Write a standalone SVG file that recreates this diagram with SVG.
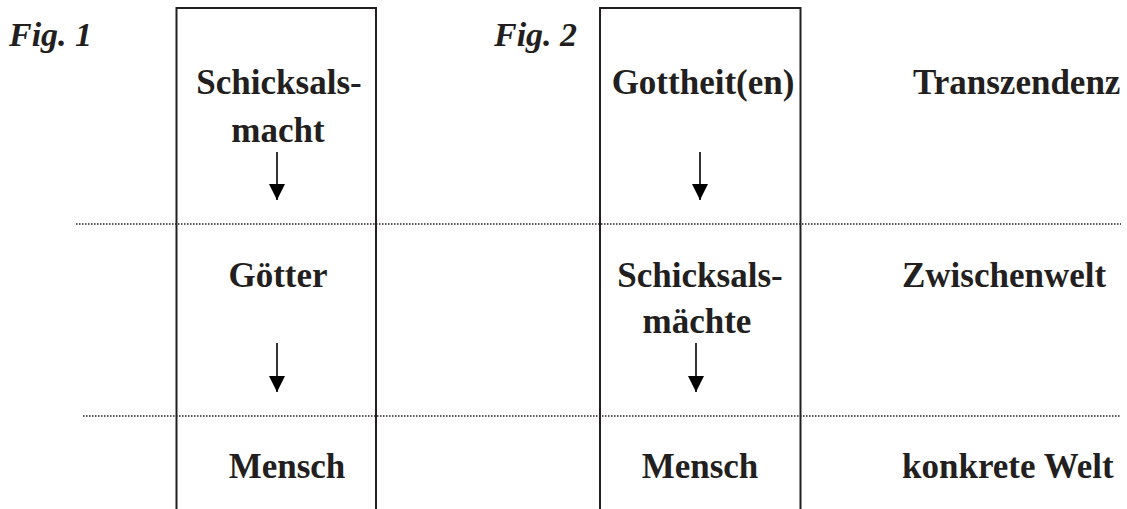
<svg xmlns="http://www.w3.org/2000/svg" width="1127" height="509" viewBox="0 0 1127 509">
<style>
.t{font-family:"Liberation Serif","Times New Roman",serif;font-weight:bold;font-size:35px;fill:#231f20}
.c{text-anchor:middle}
.fig{font-family:"Liberation Serif","Times New Roman",serif;font-weight:bold;font-style:italic;font-size:34px;fill:#231f20}
.box{fill:none;stroke:#231f20;stroke-width:2}
.dot{stroke:#231f20;stroke-width:1.5;stroke-dasharray:1.5 1.5;fill:none}
.arr{stroke:#000;stroke-width:1.6;fill:none;marker-end:url(#ah)}
</style>
<defs>
<marker id="ah" markerUnits="userSpaceOnUse" markerWidth="16" markerHeight="16" refX="16" refY="8" orient="auto" viewBox="0 0 16 16">
<path d="M0 0 L16 8 L0 16 Z" fill="#000"/>
</marker>
</defs>
<g id="labels-fig">
<text class="fig" x="9" y="46">Fig. 1</text>
<text class="fig" x="494" y="46">Fig. 2</text>
</g>
<g id="levels">
<line class="dot" x1="76" y1="224" x2="1121" y2="224"/>
<line class="dot" x1="83" y1="416" x2="1121" y2="416"/>
</g>
<g id="box1">
<path class="box" d="M176.5 509 V8 H376 V509"/>
</g>
<g id="box2">
<path class="box" d="M600 509 V8 H800.5 V509"/>
</g>
<g id="node-schicksalsmacht"><text class="t c" x="279" y="94">Schicksals-</text><text class="t c" x="278" y="142">macht</text></g>
<g id="node-goetter"><text class="t c" x="278" y="287">Götter</text></g>
<g id="node-mensch1"><text class="t c" x="287" y="478">Mensch</text></g>
<g id="node-gottheiten"><text class="t c" x="703" y="94">Gottheit(en)</text></g>
<g id="node-schicksalsmaechte"><text class="t c" x="700" y="287">Schicksals-</text><text class="t c" x="697" y="333">mächte</text></g>
<g id="node-mensch2"><text class="t c" x="700" y="478">Mensch</text></g>
<g id="node-transzendenz"><text class="t" x="913" y="94">Transzendenz</text></g>
<g id="node-zwischenwelt"><text class="t" x="902" y="287">Zwischenwelt</text></g>
<g id="node-konkrete"><text class="t" x="902" y="478">konkrete Welt</text></g>
<g id="connectors">
<line class="arr" x1="277" y1="152" x2="277" y2="200"/>
<line class="arr" x1="277" y1="343" x2="277" y2="392"/>
<line class="arr" x1="700" y1="152" x2="700" y2="200"/>
<line class="arr" x1="696" y1="343" x2="696" y2="392"/>
</g>
</svg>
